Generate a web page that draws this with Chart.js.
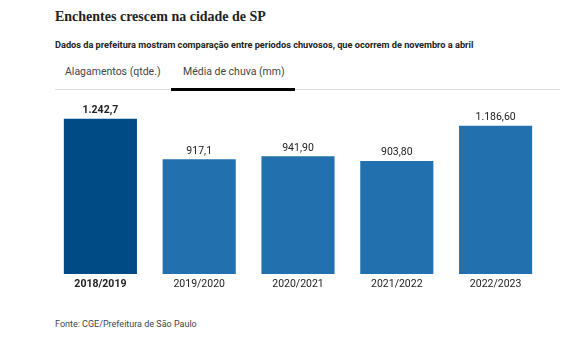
<!DOCTYPE html>
<html><head><meta charset="utf-8">
<script src="https://cdn.jsdelivr.net/npm/chart.js@4"></script>
<style>
html,body{margin:0;padding:0;background:#fff;width:584px;height:342px;overflow:hidden;}
#wrap{position:relative;width:584px;height:342px;font-family:Roboto,"Open Sans",sans-serif;}
.t{position:absolute;white-space:nowrap;}
#title{left:55px;top:9px;font-family:"Liberation Serif",serif;font-weight:bold;font-size:14px;color:#222;}
#sub{left:55px;top:39px;font-size:9.2px;font-weight:bold;color:#222;}
#tab1{left:65px;top:65px;font-size:10.5px;color:#444;}
#tab2{left:183px;top:65px;font-size:10.5px;color:#444;}
#rule{position:absolute;left:55px;top:89px;width:505px;height:1px;background:#ddd;}
#ul{position:absolute;left:171px;top:88px;width:124px;height:3px;background:#000;}
#src{left:55px;top:319px;font-size:9px;color:#444;}
#cv{position:absolute;left:0;top:90px;}
</style></head>
<body><div id="wrap">
<div class="t" id="title">Enchentes crescem na cidade de SP</div>
<div class="t" id="sub">Dados da prefeitura mostram comparação entre periodos chuvosos, que ocorrem de novembro a abril</div>
<div class="t" id="tab1">Alagamentos (qtde.)</div>
<div class="t" id="tab2">Média de chuva (mm)</div>
<div id="rule"></div><div id="ul"></div>
<div class="t" id="src">Fonte: CGE/Prefeitura de São Paulo</div>
<canvas id="cv" width="584" height="220" style="width:584px;height:220px"></canvas>
</div>
<script>
const categories = ["2018/2019","2019/2020","2020/2021","2021/2022","2022/2023"];
const values = [1242.7, 917.1, 941.9, 903.8, 1186.6];
const valueLabels = ["1.242,7","917,1","941,90","903,80","1.186,60"];
const highlightIndex = 0;

const FONT = 'Roboto,"Open Sans",sans-serif';
const labelPlugin = {
  id:'vlabels',
  afterDatasetsDraw(chart){
    const ctx = chart.ctx;
    const meta = chart.getDatasetMeta(0);
    ctx.save();
    ctx.textAlign='center'; ctx.textBaseline='bottom';
    meta.data.forEach((bar,i)=>{
      ctx.fillStyle = '#222';
      ctx.font = (i===highlightIndex?'bold ':'')+'10.5px '+FONT;
      ctx.fillText(valueLabels[i], bar.x, bar.y-3);
    });
    ctx.restore();
  }
};
new Chart(document.getElementById('cv'),{
  type:'bar',
  data:{labels:categories,datasets:[{data:values,
    backgroundColor:values.map((v,i)=>i===highlightIndex?'#004a85':'#2270ad'),
    categoryPercentage:1, barPercentage:0.74}]},
  options:{
    responsive:false, animation:false,
    layout:{padding:{left:51,right:39,top:9,bottom:10}},
    plugins:{legend:{display:false},tooltip:{enabled:false}},
    scales:{
      y:{display:false,min:0,max:1400},
      x:{grid:{display:false,drawTicks:false},border:{display:false},
        afterFit(a){a.height=26;},
        ticks:{padding:4,color:'#222',
          font:(c)=>({family:FONT,size:10.5,weight:c.index===highlightIndex?'bold':'normal'})}}
    }
  },
  plugins:[labelPlugin]
});
</script>
</body></html>
